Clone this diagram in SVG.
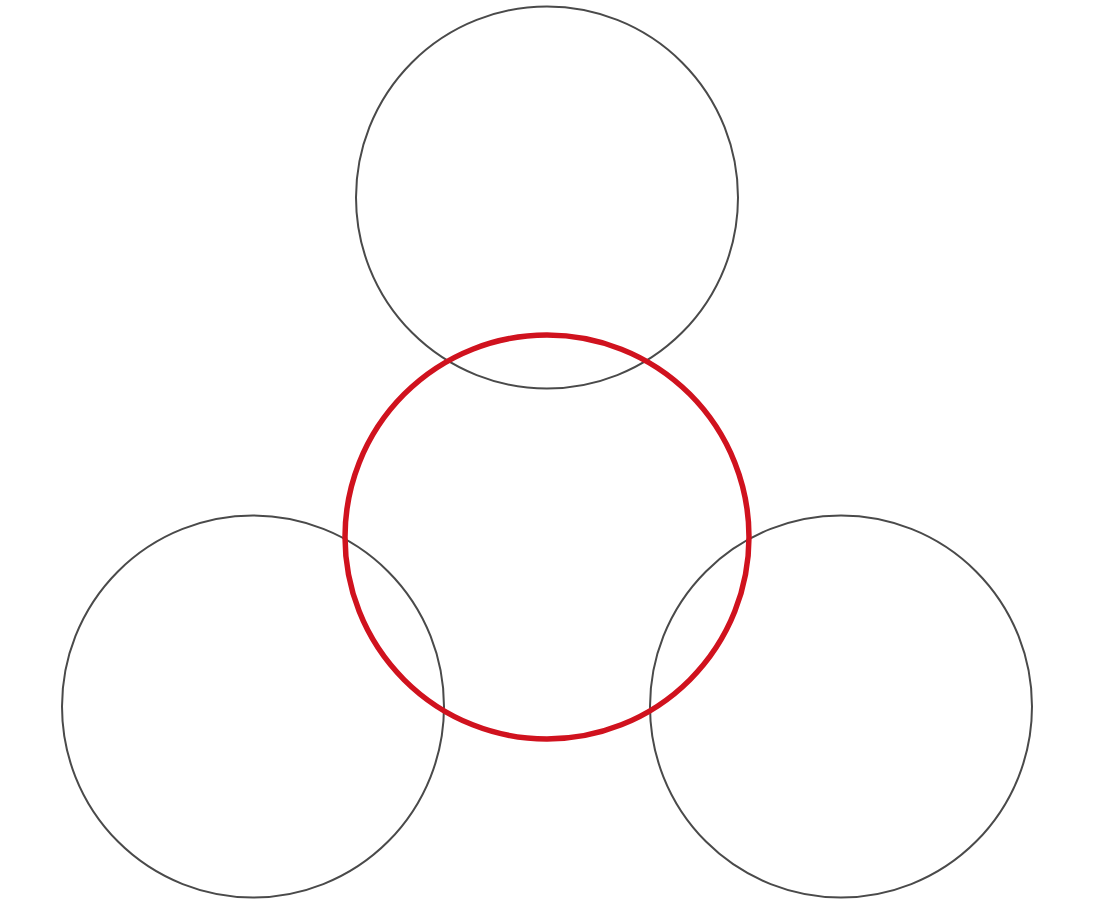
<svg xmlns="http://www.w3.org/2000/svg" width="1094" height="910" viewBox="0 0 1094 910">
<style>
.g{fill:none;stroke:#4a4a4a;stroke-width:2}
.r{fill:none;stroke:#d0121e;stroke-width:5.5}
</style>
<rect width="1094" height="910" fill="#fff"/>
<g id="top"><circle class="g" cx="547" cy="197.5" r="191"/></g>
<g id="left"><circle class="g" cx="253" cy="706.5" r="191"/></g>
<g id="right"><circle class="g" cx="841" cy="706.5" r="191"/></g>
<g id="center"><circle class="r" cx="547" cy="537" r="202"/></g>
<g id="connectors"></g>
</svg>
